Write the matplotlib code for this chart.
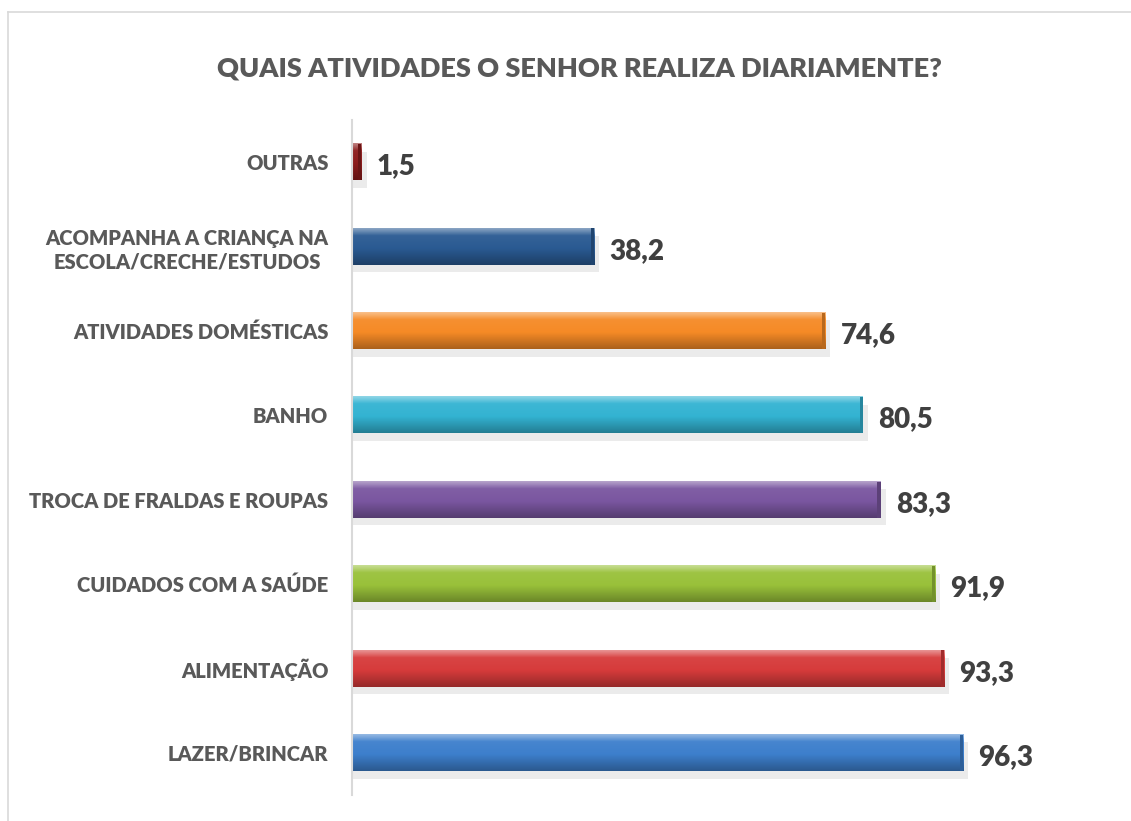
import numpy as np
import matplotlib.pyplot as plt
from matplotlib.colors import to_rgb
from matplotlib.patches import Rectangle
from matplotlib.lines import Line2D

plt.rcParams['font.family'] = ['Lato', 'DejaVu Sans']

# data, top to bottom as in the chart
categories = ['OUTRAS',
              'ACOMPANHA A CRIANÇA NA\nESCOLA/CRECHE/ESTUDOS',
              'ATIVIDADES DOMÉSTICAS',
              'BANHO',
              'TROCA DE FRALDAS E ROUPAS',
              'CUIDADOS COM A SAÚDE',
              'ALIMENTAÇÃO',
              'LAZER/BRINCAR']
values = [1.5, 38.2, 74.6, 80.5, 83.3, 91.9, 93.3, 96.3]
value_labels = ['1,5', '38,2', '74,6', '80,5', '83,3', '91,9', '93,3', '96,3']
colors = ['#8c1c1c', '#2a5a92', '#f58a26', '#33b3d2', '#7a56a0', '#99c13a', '#d63b3b', '#3d7fcc']
title = 'QUAIS ATIVIDADES O SENHOR REALIZA DIARIAMENTE?'


def shade(c, f):
    r = np.array(to_rgb(c))
    if f >= 0:
        return r + (1 - r) * f
    return r * (1 + f)


fig = plt.figure(figsize=(11.31, 8.21), dpi=100)
ax = fig.add_axes([0.3112, 0.0317, 0.5611, 0.8221])

# outer chart frame
fig.add_artist(Line2D([8 / 1131, 8 / 1131], [0, 1 - 12 / 821], transform=fig.transFigure,
                      color='#d9d9d9', lw=1.2))
fig.add_artist(Line2D([8 / 1131, 1], [1 - 12 / 821, 1 - 12 / 821], transform=fig.transFigure,
                      color='#d9d9d9', lw=1.2))

ypos = np.arange(len(values))[::-1]
h = 0.43

# gradient profile: highlight top, base middle, darker bottom
t = np.linspace(0, 1, 60)
prof = np.interp(t, [0, 0.08, 0.2, 0.55, 0.85, 1.0], [0.45, 0.3, 0.05, 0.0, -0.2, -0.3])

for y, v, c in zip(ypos, values, colors):
    # shadow
    ax.add_patch(Rectangle((0, y - h / 2 - 0.09), v + 0.8, h, color='#000000', alpha=0.08,
                           lw=0, zorder=1))
    img = np.array([[shade(c, f)] for f in prof])
    ax.imshow(img, extent=[0, v, y - h / 2, y + h / 2], aspect='auto', origin='upper',
              interpolation='bilinear', zorder=2)
    # darker right cap
    ax.add_patch(Rectangle((v - 0.5, y - h / 2), 0.5, h, color=shade(c, -0.25), lw=0, zorder=3))

for y, v, lab in zip(ypos, values, value_labels):
    ax.text(v + 2.4, y - 0.05, lab, va='center', ha='left', fontsize=20, fontweight='heavy',
            color='#404040')

ax.set_xlim(0, 100)
ax.set_ylim(-0.5, len(values) - 0.5)
ax.set_yticks(ypos)
ax.set_yticklabels(categories, fontsize=14.5, fontweight='heavy', color='#595959',
                   multialignment='center', linespacing=1.25)
ax.tick_params(axis='y', length=0, pad=17)
ax.set_xticks([])
for s in ['top', 'right', 'bottom']:
    ax.spines[s].set_visible(False)
ax.spines['left'].set_color('#d9d9d9')
ax.spines['left'].set_linewidth(1.5)

fig.text(0.512, 1 - 68 / 821, title, ha='center', va='center', fontsize=19.5,
         fontweight='heavy', color='#595959')

fig.savefig('out.png', dpi=100)
